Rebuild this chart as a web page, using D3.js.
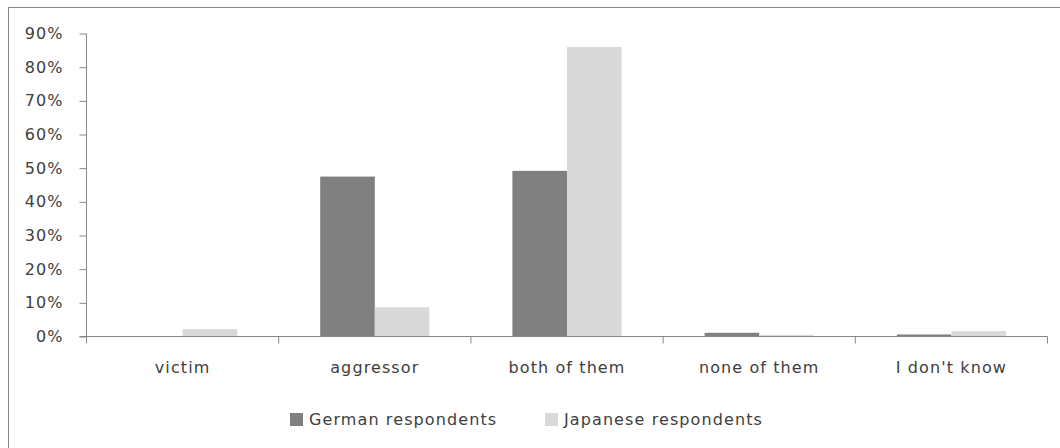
<!DOCTYPE html>
<html>
<head>
<meta charset="utf-8">
<script src="https://cdn.jsdelivr.net/npm/d3@7"></script>
<style>
  html, body { margin: 0; padding: 0; background: #fff; }
  svg { display: block; }
  text { font-family: "DejaVu Sans", sans-serif; fill: #404040; letter-spacing: 1.1px; }
</style>
</head>
<body>
<svg id="chart" width="1060" height="448"></svg>
<script>
// Survey answers: role of the country in the war
const categories = ["victim", "aggressor", "both of them", "none of them", "I don't know"];
const seriesNames = ["German respondents", "Japanese respondents"];
const germanValues = [0, 47.5, 49.2, 1.1, 0.6];
const japaneseValues = [2.2, 8.7, 86.0, 0.5, 1.6];
const yTicks = [0, 10, 20, 30, 40, 50, 60, 70, 80, 90];
const seriesColors = ["#808080", "#d9d9d9"];

const rows = categories.map((c, i) => ({
  category: c,
  values: [germanValues[i], japaneseValues[i]]
}));

const svg = d3.select("#chart");

// outer chart frame
svg.append("rect")
  .attr("x", 8.5).attr("y", 7.5)
  .attr("width", 1060).attr("height", 450)
  .attr("fill", "#fff").attr("stroke", "#868686").attr("stroke-width", 1);

const plot = { left: 86.5, right: 1047.5, top: 33.5, bottom: 336.5 };

const x = d3.scaleBand()
  .domain(categories)
  .range([plot.left, plot.right])
  .paddingInner(0).paddingOuter(0);

const x1 = d3.scaleBand()
  .domain(seriesNames)
  .range([0, x.bandwidth()])
  .paddingInner(0)
  .paddingOuter(0.76);

const y = d3.scaleLinear()
  .domain([0, 90])
  .range([plot.bottom, plot.top]);

// bars
const groups = svg.append("g").selectAll("g")
  .data(rows)
  .join("g")
  .attr("transform", d => `translate(${x(d.category)},0)`);

groups.selectAll("rect")
  .data(d => d.values.map((v, k) => ({ name: seriesNames[k], value: v, k })))
  .join("rect")
  .attr("x", d => x1(d.name))
  .attr("width", x1.bandwidth())
  .attr("y", d => y(d.value))
  .attr("height", d => y(0) - y(d.value))
  .attr("fill", d => seriesColors[d.k]);

// y axis
const yAxis = d3.axisLeft(y)
  .tickValues(yTicks)
  .tickSize(7)
  .tickPadding(16)
  .tickFormat(d => d + "%");

const gy = svg.append("g")
  .attr("transform", `translate(${plot.left},0)`)
  .call(yAxis);
gy.select(".domain").attr("stroke", "#868686").attr("d", `M0,${plot.top}V${plot.bottom}`);
gy.selectAll(".tick line").attr("stroke", "#868686");
gy.selectAll(".tick text").attr("font-size", 16).style("fill", "#404040");

// x axis with ticks at category boundaries
const gx = svg.append("g")
  .attr("transform", `translate(0,${plot.bottom})`);
gx.append("line")
  .attr("x1", plot.left - 7).attr("x2", plot.right)
  .attr("stroke", "#868686");
const boundaries = categories.map(c => x(c)).concat([x(categories[categories.length - 1]) + x.bandwidth()]);
gx.selectAll("line.tick")
  .data(boundaries)
  .join("line")
  .attr("class", "tick")
  .attr("x1", d => d).attr("x2", d => d)
  .attr("y1", 0).attr("y2", 7)
  .attr("stroke", "#868686");
gx.selectAll("text")
  .data(categories)
  .join("text")
  .attr("x", d => x(d) + x.bandwidth() / 2)
  .attr("y", 36)
  .attr("text-anchor", "middle")
  .attr("font-size", 16)
  .text(d => d);

// legend
const legendItems = [
  { name: seriesNames[0], color: seriesColors[0], x: 290 },
  { name: seriesNames[1], color: seriesColors[1], x: 545 }
];
const legend = svg.append("g").selectAll("g")
  .data(legendItems)
  .join("g")
  .attr("transform", d => `translate(${d.x},413)`);
legend.append("rect")
  .attr("width", 13).attr("height", 13)
  .attr("fill", d => d.color);
legend.append("text")
  .attr("x", 19).attr("y", 12)
  .attr("font-size", 16)
  .text(d => d.name);
</script>
</body>
</html>
